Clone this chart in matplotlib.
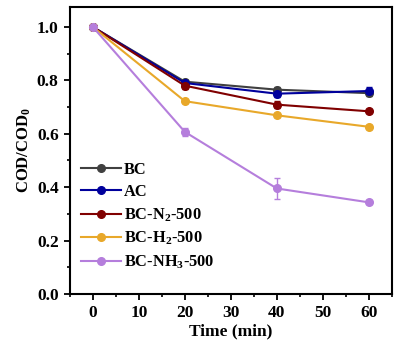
import numpy as np
import matplotlib.pyplot as plt
from matplotlib.ticker import MultipleLocator

plt.rcParams['font.family'] = 'Liberation Serif'
plt.rcParams['font.weight'] = 'bold'
plt.rcParams['mathtext.fontset'] = 'custom'
plt.rcParams['mathtext.bf'] = 'Liberation Serif:bold'
plt.rcParams['mathtext.rm'] = 'Liberation Serif:bold'
plt.rcParams['mathtext.default'] = 'bf'

time = [0, 20, 40, 60]
labels = ['BC', 'AC', 'BC-N$_2$-500', 'BC-H$_2$-500', 'BC-NH$_3$-500']
bc = [1.0, 0.795, 0.765, 0.752]
ac = [1.0, 0.790, 0.750, 0.760]
bc_n2 = [1.0, 0.780, 0.709, 0.684]
bc_h2 = [1.0, 0.722, 0.669, 0.626]
bc_nh3 = [1.0, 0.607, 0.395, 0.343]
err_bc = [0.005, 0.008, 0.010, 0.010]
err_ac = [0.005, 0.010, 0.012, 0.015]
err_n2 = [0.005, 0.012, 0.012, 0.008]
err_h2 = [0.005, 0.008, 0.008, 0.008]
err_nh3 = [0.005, 0.015, 0.038, 0.008]
colors = ['#404040', '#00009C', '#800000', '#E8A82A', '#B57EDC']

series = [bc, ac, bc_n2, bc_h2, bc_nh3]
errs = [err_bc, err_ac, err_n2, err_h2, err_nh3]

fig = plt.figure(figsize=(3.99, 3.45), dpi=100)
ax = fig.add_axes([0.175, 0.148, 0.807, 0.832])

handles = []
for y, e, c, lab in zip(series, errs, colors, labels):
    cont = ax.errorbar(time, y, yerr=e, color=c, marker='o', markersize=5.5,
                       linewidth=1.5, capsize=2.5, elinewidth=1, label=lab)
    handles.append(cont[0])

ax.set_xlim(-5, 65)
ax.set_ylim(0, 1.075)
ax.xaxis.set_major_locator(MultipleLocator(10))
ax.xaxis.set_minor_locator(MultipleLocator(5))
ax.yaxis.set_major_locator(MultipleLocator(0.2))
ax.yaxis.set_minor_locator(MultipleLocator(0.1))
ax.tick_params(which='major', direction='out', length=4, width=1.3, labelsize=12.5, pad=4)
ax.tick_params(which='minor', direction='out', length=2.5, width=1.2)
for s in ax.spines.values():
    s.set_linewidth(1.5)

ax.set_xlabel('Time (min)', fontsize=12.5, fontweight='bold', labelpad=2)
ax.set_ylabel('COD/COD$_0$', fontsize=12, fontweight='bold', labelpad=3)

ax.legend(handles, labels, loc='upper left', bbox_to_anchor=(0.0, 0.50), frameon=False,
          handlelength=2.4, handletextpad=0.2, labelspacing=0.38, borderaxespad=0.3,
          prop={'weight': 'bold', 'size': 11.8})

fig.savefig('out.png', dpi=100)
